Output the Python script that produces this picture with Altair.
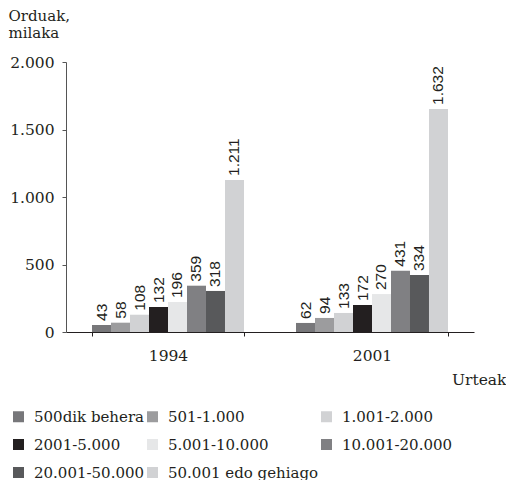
import altair as alt
import pandas as pd

years = ["1994", "2001"]
categories = ["500dik behera", "501-1.000", "1.001-2.000", "2001-5.000",
              "5.001-10.000", "10.001-20.000", "20.001-50.000", "50.001 edo gehiago"]
# printed labels
labels_1994 = [43, 58, 108, 132, 196, 359, 318, 1211]
labels_2001 = [62, 94, 133, 172, 270, 431, 334, 1632]
# bar heights as drawn in the picture
bars_1994 = [52, 69, 128, 185, 222, 343, 304, 1126]
bars_2001 = [67, 104, 141, 200, 281, 454, 422, 1652]
colors = ["#77777a", "#9c9c9e", "#d1d2d4", "#231f20",
          "#e6e7e8", "#808083", "#58595b", "#d1d2d4"]

rows = []
for yr, labs, hts in [("1994", labels_1994, bars_1994), ("2001", labels_2001, bars_2001)]:
    for c, l, h in zip(categories, labs, hts):
        rows.append({"year": yr, "cat": c, "value": h,
                     "label": f"{l:,}".replace(",", ".")})
df = pd.DataFrame(rows)

SERIF = "DejaVu Serif"
DARK = "#231f20"

x = alt.X("year:N", sort=years,
          scale=alt.Scale(paddingInner=0.255, paddingOuter=0.1275),
          axis=alt.Axis(title="Urteak", labelAngle=0, tickBand="extent",
                        tickSize=4, labelPadding=12, labelFont=SERIF,
                        labelFontSize=15.5, labelColor=DARK,
                        labelFontWeight="normal",
                        domainColor="#231f20", tickColor="#231f20",
                        titleFont=SERIF, titleFontSize=15.5,
                        titleFontWeight="normal", titleColor=DARK,
                        titleAnchor="end", titleAlign="right",
                        titleBaseline="middle", titleX=440, titleY=47))
xo = alt.XOffset("cat:N", sort=categories, scale=alt.Scale(paddingInner=0, paddingOuter=0))
y = alt.Y("value:Q",
          scale=alt.Scale(domain=[0, 2000]),
          axis=alt.Axis(values=[0, 500, 1000, 1500, 2000], grid=False,
                        labelExpr="replace(format(datum.value, ','), ',', '.')",
                        tickSize=4, labelPadding=8, labelFont=SERIF,
                        labelFontSize=15.5, labelColor=DARK,
                        domainColor="#555555", tickColor="#555555",
                        title=["Orduak,", "milaka"], titleAngle=0,
                        titleAlign="left", titleBaseline="top",
                        titleX=-58, titleY=-54, titleFont=SERIF,
                        titleFontSize=15, titleFontWeight="normal",
                        titleColor=DARK, titleLineHeight=17))

bars = alt.Chart(df).mark_bar().encode(
    x=x, xOffset=xo, y=y,
    color=alt.Color("cat:N", sort=categories,
                    scale=alt.Scale(domain=categories, range=colors),
                    legend=alt.Legend(title=None, orient="none", legendX=-55,
                                      legendY=347, direction="horizontal",
                                      columns=3, symbolType="square",
                                      symbolSize=121, symbolStrokeWidth=0,
                                      labelFont=SERIF, labelFontSize=15,
                                      labelColor=DARK, labelOffset=8,
                                      columnPadding=-4, rowPadding=12,
                                      labelLimit=300))
)

text = alt.Chart(df).mark_text(angle=270, align="left", baseline="middle",
                               dx=4, font="Liberation Sans", fontSize=15.5,
                               color=DARK).encode(
    x=alt.X("year:N", sort=years), xOffset=alt.XOffset("cat:N", sort=categories),
    y=alt.Y("value:Q"), text="label:N")

chart = alt.layer(bars, text).properties(width=408, height=270, padding=0).configure_view(
    stroke=None).configure_axis(grid=False)

chart.save("out.html", embed_options={"renderer": "svg", "actions": False})
